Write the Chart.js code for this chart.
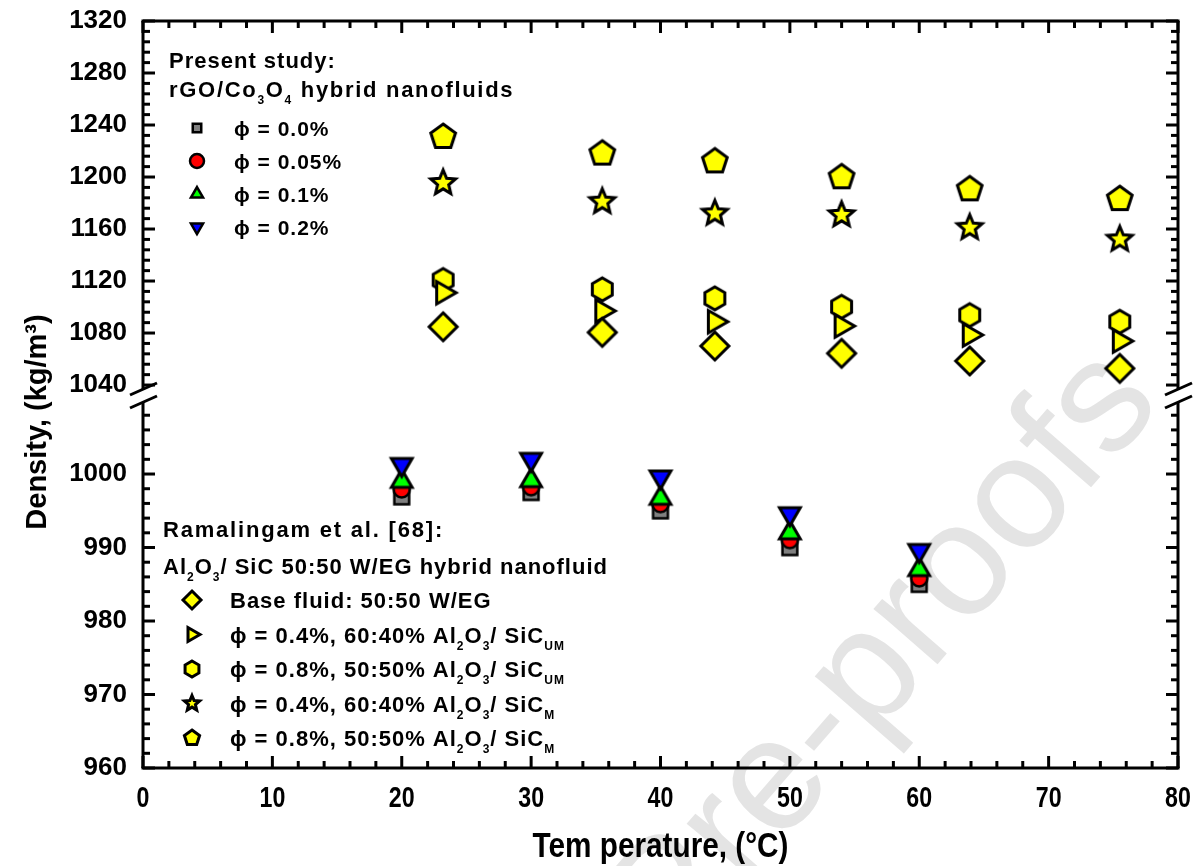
<!DOCTYPE html>
<html>
<head>
<meta charset="utf-8">
<title>Density vs temperature</title>
<script src="https://cdn.jsdelivr.net/npm/chart.js@4.4.1/dist/chart.umd.min.js"></script>
<style>
  html, body { margin: 0; padding: 0; background: #fff; }
  #wrap { width: 1203px; height: 866px; }
</style>
</head>
<body>
<div id="wrap"><canvas id="chart" width="1203" height="866"></canvas></div>
<script>
// Present study: rGO/Co3O4 hybrid nanofluids
const tempStudy = [20, 30, 40, 50, 60];
const rho00  = [996.9, 997.5, 995.0, 990.0, 985.0];
const rho005 = [997.9, 998.2, 995.9, 991.0, 985.8];
const rho01  = [999.0, 999.1, 996.7, 992.0, 987.0];
const rho02  = [1001.3, 1002.0, 999.6, 994.6, 989.6];

// Ramalingam et al. [68]: Al2O3/SiC 50:50 W/EG
const tempRef  = [23.2, 35.5, 44.2, 54.0, 63.9, 75.5];
const baseWEG  = [1084.8, 1080.5, 1070.0, 1064.4, 1058.5, 1052.8];
const um04     = [1111.0, 1097.0, 1088.7, 1085.4, 1078.5, 1073.8];
const um08     = [1120.8, 1113.6, 1106.7, 1100.2, 1093.8, 1088.7];
const m04      = [1195.4, 1181.0, 1172.0, 1170.8, 1161.0, 1152.0];
const m08      = [1230.8, 1218.0, 1212.0, 1199.8, 1190.5, 1183.0];

// axis ticks (the y axis is broken between 1010 and 1030)
const xTicks    = [0, 10, 20, 30, 40, 50, 60, 70, 80];
const lowTicks  = [960, 970, 980, 990, 1000];
const highTicks = [1040, 1080, 1120, 1160, 1200, 1240, 1280, 1320];

const FONT = "'Liberation Sans', Arial, sans-serif";

function shapePath(c, shape, x, y, r) {
  c.beginPath();
  if (shape === 'circle') {
    c.arc(x, y, r, 0, Math.PI * 2);
    return;
  }
  let n, a0, inner = 0;
  switch (shape) {
    case 'square':  n = 4; a0 = -135; break;
    case 'diamond': n = 4; a0 = -90; break;
    case 'triUp':   n = 3; a0 = -90; break;
    case 'triDown': n = 3; a0 = 90; break;
    case 'triRight':n = 3; a0 = 0; break;
    case 'pentagon':n = 5; a0 = -90; break;
    case 'hexagon': n = 6; a0 = -90; break;
    case 'star':    n = 5; a0 = -90; inner = 0.45; break;
  }
  const steps = inner ? n * 2 : n;
  for (let i = 0; i < steps; i++) {
    const rr = inner && i % 2 ? r * inner : r;
    const ang = (a0 + i * 360 / steps) * Math.PI / 180;
    const px = x + rr * Math.cos(ang), py = y + rr * Math.sin(ang);
    if (i === 0) c.moveTo(px, py); else c.lineTo(px, py);
  }
  c.closePath();
}

function drawMarker(c, shape, x, y, r, fill, lw) {
  shapePath(c, shape, x, y, r);
  c.fillStyle = fill;
  c.fill();
  c.lineWidth = lw;
  c.lineJoin = 'miter';
  c.strokeStyle = '#000';
  c.stroke();
}

function markerCanvas(shape, r, fill, lw) {
  const cv = document.createElement('canvas');
  const s = Math.ceil(2 * (r + lw) + 4);
  cv.width = s; cv.height = s;
  drawMarker(cv.getContext('2d'), shape, s / 2, s / 2, r, fill, lw);
  return cv;
}

function pts(xs, ys) {
  return xs.map((t, i) => ({ x: t, y: ys[i] }));
}

function series(label, xs, ys, axis, shape, r, fill, order) {
  return {
    label: label,
    data: pts(xs, ys),
    yAxisID: axis,
    order: order,
    showLine: false,
    pointStyle: markerCanvas(shape, r, fill, shape === 'square' || shape === 'circle' ? 2.5 : 3),
    pointRadius: r,
    pointHoverRadius: r
  };
}

const YEL = '#ffff00';

// legend rows: text pieces, arrays are subscripts
const legendStudy = [
  ['square', '#808080', ['\u03d5 = 0.0%']],
  ['circle', '#ff0000', ['\u03d5 = 0.05%']],
  ['triUp', '#00ff00', ['\u03d5 = 0.1%']],
  ['triDown', '#0000ff', ['\u03d5 = 0.2%']]
];
const legendRef = [
  ['diamond', ['Base fluid: 50:50 W/EG']],
  ['triRight', ['\u03d5 = 0.4%, 60:40% Al', ['2'], 'O', ['3'], '/ SiC', ['UM']]],
  ['hexagon', ['\u03d5 = 0.8%, 50:50% Al', ['2'], 'O', ['3'], '/ SiC', ['UM']]],
  ['star', ['\u03d5 = 0.4%, 60:40% Al', ['2'], 'O', ['3'], '/ SiC', ['M']]],
  ['pentagon', ['\u03d5 = 0.8%, 50:50% Al', ['2'], 'O', ['3'], '/ SiC', ['M']]]
];

function richText(c, parts, x, y, size) {
  let cx = x;
  parts.forEach(p => {
    const sub = Array.isArray(p);
    const t = sub ? p[0] : p;
    c.font = 'bold ' + (sub ? Math.round(size * 0.55) : size) + 'px ' + FONT;
    c.fillText(t, cx, sub ? y + size * 0.33 : y);
    cx += c.measureText(t).width;
  });
}

// condensed bold text, as used on the temperature axis
function narrowText(c, text, x, y, size, squeeze) {
  c.save();
  c.translate(x, y);
  c.scale(squeeze, 1);
  c.font = 'bold ' + size + 'px ' + FONT;
  c.fillText(text, 0, 0);
  c.restore();
}

// keep the axis frame flush with the layout padding
function fitLeft(s) {
  s.width = 143;
  s.paddingTop = 0;
  s.paddingBottom = 0;
}

const decor = {
  id: 'decor',
  beforeDraw(chart) {
    const c = chart.ctx;
    c.save();
    c.fillStyle = '#fff';
    c.fillRect(0, 0, chart.width, chart.height);
    // journal watermark
    c.translate(1122, 368);
    c.rotate(-49 * Math.PI / 180);
    c.font = '160px ' + FONT;
    c.fillStyle = '#e4e4e4';
    c.textAlign = 'right';
    c.fillText('Journal Pre-proofs', 0, 55);
    c.restore();
  },
  afterDatasetsDraw(chart) {
    const c = chart.ctx, a = chart.chartArea;
    const sx = chart.scales.x, lo = chart.scales.yLow, hi = chart.scales.yHigh;
    const split = hi.bottom;
    const line = (x1, y1, x2, y2) => { c.beginPath(); c.moveTo(x1, y1); c.lineTo(x2, y2); c.stroke(); };
    c.save();
    c.strokeStyle = '#000';
    c.lineWidth = 3;
    c.lineCap = 'butt';
    line(a.left - 1.5, a.top, a.right + 1.5, a.top);
    line(a.left - 1.5, a.bottom, a.right + 1.5, a.bottom);
    [a.left, a.right].forEach(px => {
      line(px, a.top, px, split - 7);
      line(px, split + 5, px, a.bottom);
    });
    // ticks point inward on all four sides
    for (let v = 0; v <= 80; v += 2) {
      const px = sx.getPixelForValue(v), len = v % 10 === 0 ? 12 : 7;
      line(px, a.bottom, px, a.bottom - len);
      line(px, a.top, px, a.top + len);
    }
    for (let v = 960; v <= 1008; v += 2) {
      const py = lo.getPixelForValue(v), len = v % 10 === 0 ? 12 : 7;
      line(a.left, py, a.left + len, py);
      line(a.right, py, a.right - len, py);
    }
    for (let v = 1040; v <= 1320; v += 8) {
      const py = hi.getPixelForValue(v), len = v % 40 === 0 ? 12 : 7;
      line(a.left, py, a.left + len, py);
      line(a.right, py, a.right - len, py);
    }
    // break marks
    [a.left, a.right].forEach(px => {
      line(px - 13, split - 2, px + 14, split - 14);
      line(px - 13, split + 11, px + 14, split - 1);
    });

    // temperature axis labels and title
    c.fillStyle = '#000';
    c.textAlign = 'center';
    c.textBaseline = 'alphabetic';
    xTicks.forEach(v => narrowText(c, String(v), sx.getPixelForValue(v), a.bottom + 39, 29, 0.8));
    narrowText(c, 'Tem perature, (\u00b0C)', (a.left + a.right) / 2, 857, 35, 0.85);

    // y title
    c.save();
    c.translate(38, 422);
    c.rotate(-Math.PI / 2);
    c.font = 'bold 29px ' + FONT;
    c.textAlign = 'center';
    c.textBaseline = 'middle';
    c.fillText('Density, (kg/m\u00b3)', 0, 0);
    c.restore();

    // legend: present study
    c.textAlign = 'left';
    c.letterSpacing = '1px';
    richText(c, ['Present study:'], 169, 68, 22);
    c.letterSpacing = '1.7px';
    richText(c, ['rGO/Co', ['3'], 'O', ['4'], ' hybrid nanofluids'], 169, 97, 22);
    c.letterSpacing = '1px';
    legendStudy.forEach((row, i) => {
      const y = 128 + i * 33;
      drawMarker(c, row[0], 197, y, row[0] === 'square' ? 6 : 7, row[1], 2.5);
      c.fillStyle = '#000';
      richText(c, row[2], 234, y + 8, 21);
    });

    // legend: Ramalingam et al.
    c.letterSpacing = '1.8px';
    richText(c, ['Ramalingam et al. [68]:'], 163, 537, 22);
    c.letterSpacing = '1px';
    richText(c, ['Al', ['2'], 'O', ['3'], '/ SiC 50:50 W/EG hybrid nanofluid'], 163, 574, 22);
    legendRef.forEach((row, i) => {
      const y = 600 + i * 34.5;
      drawMarker(c, row[0], 192, y, row[0] === 'diamond' ? 9 : 8, YEL, 3);
      c.fillStyle = '#000';
      richText(c, row[1], 230, y + 8, 22);
    });
    c.restore();
  }
};

const tickFont = { family: FONT, size: 26, weight: 'bold' };

new Chart(document.getElementById('chart'), {
  type: 'scatter',
  data: {
    datasets: [
      series('phi = 0.0%', tempStudy, rho00, 'yLow', 'square', 10.5, '#808080', 4),
      series('phi = 0.05%', tempStudy, rho005, 'yLow', 'circle', 8, '#ff0000', 3),
      series('phi = 0.1%', tempStudy, rho01, 'yLow', 'triUp', 12, '#00ff00', 2),
      series('phi = 0.2%', tempStudy, rho02, 'yLow', 'triDown', 12, '#0000ff', 1),
      series('Base fluid', tempRef, baseWEG, 'yHigh', 'diamond', 14, YEL, 5),
      series('0.4% UM', tempRef, um04, 'yHigh', 'triRight', 13, YEL, 6),
      series('0.8% UM', tempRef, um08, 'yHigh', 'hexagon', 11.5, YEL, 7),
      series('0.4% M', tempRef, m04, 'yHigh', 'star', 13, YEL, 5),
      series('0.8% M', tempRef, m08, 'yHigh', 'pentagon', 13, YEL, 5)
    ]
  },
  options: {
    responsive: false,
    animation: false,
    devicePixelRatio: 1,
    layout: { padding: { top: 21, right: 25, left: 0, bottom: 0 } },
    plugins: {
      legend: { display: false },
      tooltip: { enabled: false }
    },
    scales: {
      x: {
        type: 'linear',
        min: 0,
        max: 80,
        afterBuildTicks: s => { s.ticks = xTicks.map(v => ({ value: v })); },
        afterFit: s => { s.height = 98; s.paddingLeft = 0; s.paddingRight = 0; },
        grid: { display: false, drawTicks: false },
        border: { display: false },
        ticks: { display: false }
      },
      yLow: {
        type: 'linear',
        position: 'left',
        stack: 'rho',
        stackWeight: 371,
        min: 960,
        max: 1010.48,
        afterBuildTicks: s => { s.ticks = lowTicks.map(v => ({ value: v })); },
        afterFit: fitLeft,
        grid: { display: false, drawTicks: false },
        border: { display: false },
        ticks: { font: tickFont, color: '#000', padding: 16, autoSkip: false, callback: v => String(v) }
      },
      yHigh: {
        type: 'linear',
        position: 'left',
        stack: 'rho',
        stackWeight: 376,
        min: 1030.8,
        max: 1320,
        afterBuildTicks: s => { s.ticks = highTicks.map(v => ({ value: v })); },
        afterFit: fitLeft,
        grid: { display: false, drawTicks: false },
        border: { display: false },
        ticks: { font: tickFont, color: '#000', padding: 16, autoSkip: false, callback: v => String(v) }
      }
    }
  },
  plugins: [decor]
});
</script>
</body>
</html>
